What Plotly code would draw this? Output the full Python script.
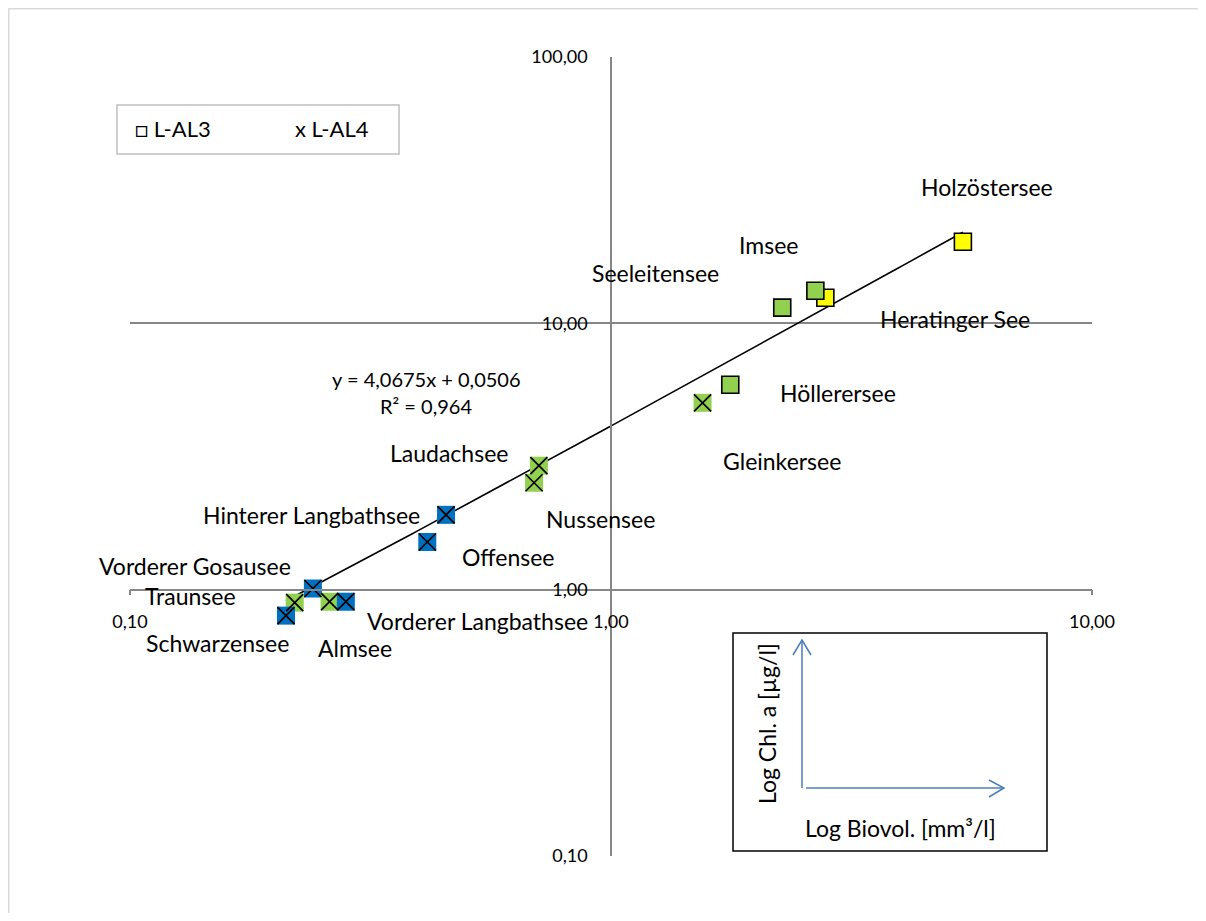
import numpy as np
import plotly.graph_objects as go

# ---------------- data ----------------
lakes = ["Holzöstersee", "Heratinger See", "Imsee", "Seeleitensee", "Höllerersee",
         "Gleinkersee", "Laudachsee", "Nussensee", "Hinterer Langbathsee", "Offensee",
         "Vorderer Gosausee", "Traunsee", "Schwarzensee", "Almsee", "Vorderer Langbathsee"]
biovol = [5.39, 2.79, 2.66, 2.27, 1.77,
          1.55, 0.708, 0.692, 0.454, 0.415,
          0.240, 0.220, 0.211, 0.260, 0.281]
chla = [20.25, 12.48, 13.26, 11.45, 5.88,
        5.03, 2.92, 2.52, 1.91, 1.51,
        1.01, 0.894, 0.799, 0.901, 0.901]
typ = ["L-AL3", "L-AL3", "L-AL3", "L-AL3", "L-AL3",
       "L-AL4", "L-AL4", "L-AL4", "L-AL4", "L-AL4",
       "L-AL4", "L-AL4", "L-AL4", "L-AL4", "L-AL4"]
zustand = ["gelb", "gelb", "grün", "grün", "grün",
           "grün", "grün", "grün", "blau", "blau",
           "blau", "grün", "blau", "grün", "blau"]

x_ticks = [0.1, 1, 10]
x_ticktext = ["0,10", "1,00", "10,00"]
y_ticks = [0.1, 1, 10, 100]
y_ticktext = ["0,10", "1,00", "10,00", "100,00"]

slope = 4.0675
intercept = 0.0506
eq_text = "y = 4,0675x + 0,0506"
r2_text = "R² = 0,964"

# ---------------- styling ----------------
OFF = 8                      # page body margin
W, H = 1190, 905
L, R, T, B = 130 - OFF, 1092 - OFF, 57 - OFF, 856 - OFF   # plot area in figure px
FONT = "Lato"
LBL = 23
TICK = 18
colmap = {"gelb": "#FFFF00", "grün": "#92D050", "blau": "#0070C0"}
arrow_col = "#4A7EBB"


def px(x):
    """screen x pixel -> paper fraction"""
    return (x - OFF - L) / (R - L)


def py(y):
    """screen y pixel -> paper fraction"""
    return (B - (y - OFF)) / (B - T)


fig = go.Figure()

# trendline (linear fit drawn on log axes)
xs = np.logspace(np.log10(min(biovol)), np.log10(max(biovol)), 200)
fig.add_trace(go.Scatter(x=xs, y=slope * xs + intercept, mode="lines",
                         line=dict(color="black", width=1.6), hoverinfo="skip",
                         showlegend=False))

# L-AL3: squares with black border
i3 = [i for i, t in enumerate(typ) if t == "L-AL3"]
fig.add_trace(go.Scatter(
    x=[biovol[i] for i in i3], y=[chla[i] for i in i3], mode="markers",
    text=[lakes[i] for i in i3],
    marker=dict(symbol="square", size=17,
                color=[colmap[zustand[i]] for i in i3],
                line=dict(color="black", width=1.6)),
    showlegend=False))

# L-AL4: filled squares with an X
i4 = [i for i, t in enumerate(typ) if t == "L-AL4"]
fig.add_trace(go.Scatter(
    x=[biovol[i] for i in i4], y=[chla[i] for i in i4], mode="markers",
    text=[lakes[i] for i in i4],
    marker=dict(symbol="square", size=18,
                color=[colmap[zustand[i]] for i in i4],
                line=dict(width=0)),
    showlegend=False))
fig.add_trace(go.Scatter(
    x=[biovol[i] for i in i4], y=[chla[i] for i in i4], mode="markers",
    marker=dict(symbol="x-thin", size=17, line=dict(color="black", width=1.7)),
    hoverinfo="skip", showlegend=False))

# ---------------- annotations ----------------
label_pos = {
    "Holzöstersee": (987, 187),
    "Imsee": (768, 245),
    "Seeleitensee": (655, 273),
    "Heratinger See": (955, 319),
    "Höllerersee": (838, 393),
    "Gleinkersee": (782, 461),
    "Laudachsee": (449, 453),
    "Nussensee": (600, 519),
    "Hinterer Langbathsee": (311, 515),
    "Offensee": (508, 557),
    "Vorderer Gosausee": (195, 566),
    "Traunsee": (190, 596),
    "Schwarzensee": (217, 643),
    "Almsee": (355, 648),
    "Vorderer Langbathsee": (477, 621),
}


def ann(cx, cy, text, size=LBL, **kw):
    d = dict(x=px(cx), y=py(cy), xref="paper", yref="paper", text=text,
             showarrow=False, xanchor="center", yanchor="middle",
             font=dict(family=FONT, size=size, color="black"))
    d.update(kw)
    return d


annotations = [ann(*label_pos[name], name) for name in lakes]
annotations.append(ann(426, 379, eq_text, size=20))
annotations.append(ann(426, 406, r2_text, size=20))

# legend-like box
annotations.append(ann(133, 129, "□ L-AL3", size=22, xanchor="left"))
annotations.append(ann(293, 129, "x L-AL4", size=22, xanchor="left"))

# inset axis explanation
annotations.append(ann(767, 724, "Log Chl. a [µg/l]", textangle=-90))
annotations.append(ann(900, 828, "Log Biovol. [mm³/l]"))

shapes = []


def path(pts):
    return "M " + " L ".join(f"{px(a):.5f},{py(b):.5f}" for a, b in pts)


# outer frame (top and left edges visible)
shapes.append(dict(type="path", xref="paper", yref="paper",
                   path=path([(8.5, 921), (8.5, 8.5), (1206, 8.5)]),
                   line=dict(color="#D9D9D9", width=2), layer="below"))
# legend box
shapes.append(dict(type="rect", xref="paper", yref="paper",
                   x0=px(117), y0=py(154), x1=px(399), y1=py(105),
                   line=dict(color="#BFBFBF", width=1.5), fillcolor="white", layer="above"))
# inset box
shapes.append(dict(type="rect", xref="paper", yref="paper",
                   x0=px(733), y0=py(851), x1=px(1047), y1=py(633),
                   line=dict(color="black", width=1.5), fillcolor="white", layer="above"))

for pts in ([(802, 788), (802, 640)],
            [(793, 655), (802, 640), (811, 655)],
            [(806, 788), (1004, 788)],
            [(989, 780), (1004, 788), (989, 797)]):
    shapes.append(dict(type="path", xref="paper", yref="paper", path=path(pts),
                       line=dict(color=arrow_col, width=1.5), layer="above"))

fig.update_layout(
    width=W, height=H,
    margin=dict(l=L, r=W - R, t=T, b=H - B, pad=0),
    paper_bgcolor="white", plot_bgcolor="white",
    font=dict(family=FONT, color="black"),
    annotations=annotations, shapes=shapes,
    showlegend=False,
    xaxis=dict(type="log", range=[-1, 1], anchor="free", position=1 / 3,
               tickvals=x_ticks, ticktext=x_ticktext, showgrid=False, zeroline=False,
               showline=True, linecolor="#868686", linewidth=1.5,
               ticks="outside", ticklen=5, tickcolor="#868686", tickwidth=1.5,
               ticklabelstandoff=11,
               tickfont=dict(family=FONT, size=TICK, color="black")),
    yaxis=dict(type="log", range=[-1, 2], anchor="free", position=0.5,
               tickvals=y_ticks, ticktext=y_ticktext, showgrid=True,
               gridcolor="#868686", gridwidth=1.5, zeroline=False,
               showline=True, linecolor="#868686", linewidth=1.5,
               ticks="", ticklabelstandoff=19,
               tickfont=dict(family=FONT, size=TICK, color="black")),
)

fig.write_html("out.html")
